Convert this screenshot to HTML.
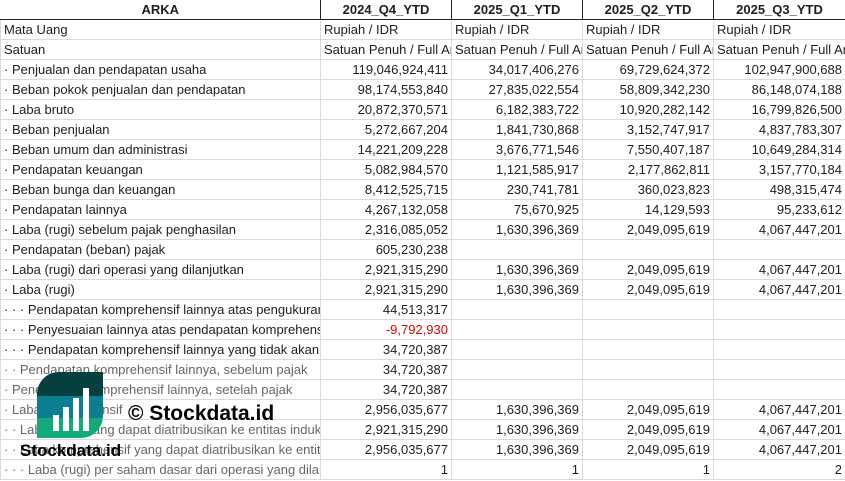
<!DOCTYPE html>
<html><head><meta charset="utf-8"><style>
html,body{margin:0;padding:0;background:#fff;width:845px;height:481px;overflow:hidden;position:relative}
table{border-collapse:collapse;table-layout:fixed;width:845px;font-family:"Liberation Sans",Arial,sans-serif;font-size:13px;color:#1e1e1e;position:absolute;left:0;top:0}
td{height:19px;padding:0 3px;border:1px solid #dadada;white-space:nowrap;overflow:hidden;text-overflow:clip;text-align:right;line-height:19px;max-width:0}
td:first-child{text-align:left}
tr.h td{font-weight:bold;text-align:center;border-bottom:1px solid #222;border-left:1px solid #222;border-right:1px solid #222;border-top:none;height:19px}
tr.l td{text-align:left}
.g{color:#666}
.r{color:#e00000}
.wm{position:absolute;font-family:"Liberation Sans",Arial,sans-serif;font-weight:bold;color:#000}
</style></head><body>
<table>
<colgroup><col style="width:320px"><col style="width:131px"><col style="width:131px"><col style="width:131px"><col style="width:132px"></colgroup>
<tr class="h"><td style="text-align:center;border-left:none">ARKA</td><td>2024_Q4_YTD</td><td>2025_Q1_YTD</td><td>2025_Q2_YTD</td><td>2025_Q3_YTD</td></tr>
<tr class="l"><td>Mata Uang</td><td>Rupiah / IDR</td><td>Rupiah / IDR</td><td>Rupiah / IDR</td><td>Rupiah / IDR</td></tr>
<tr class="l"><td>Satuan</td><td>Satuan Penuh / Full Amount</td><td>Satuan Penuh / Full Amount</td><td>Satuan Penuh / Full Amount</td><td>Satuan Penuh / Full Amount</td></tr>
<tr><td>· Penjualan dan pendapatan usaha</td><td>119,046,924,411</td><td>34,017,406,276</td><td>69,729,624,372</td><td>102,947,900,688</td></tr>
<tr><td>· Beban pokok penjualan dan pendapatan</td><td>98,174,553,840</td><td>27,835,022,554</td><td>58,809,342,230</td><td>86,148,074,188</td></tr>
<tr><td>· Laba bruto</td><td>20,872,370,571</td><td>6,182,383,722</td><td>10,920,282,142</td><td>16,799,826,500</td></tr>
<tr><td>· Beban penjualan</td><td>5,272,667,204</td><td>1,841,730,868</td><td>3,152,747,917</td><td>4,837,783,307</td></tr>
<tr><td>· Beban umum dan administrasi</td><td>14,221,209,228</td><td>3,676,771,546</td><td>7,550,407,187</td><td>10,649,284,314</td></tr>
<tr><td>· Pendapatan keuangan</td><td>5,082,984,570</td><td>1,121,585,917</td><td>2,177,862,811</td><td>3,157,770,184</td></tr>
<tr><td>· Beban bunga dan keuangan</td><td>8,412,525,715</td><td>230,741,781</td><td>360,023,823</td><td>498,315,474</td></tr>
<tr><td>· Pendapatan lainnya</td><td>4,267,132,058</td><td>75,670,925</td><td>14,129,593</td><td>95,233,612</td></tr>
<tr><td>· Laba (rugi) sebelum pajak penghasilan</td><td>2,316,085,052</td><td>1,630,396,369</td><td>2,049,095,619</td><td>4,067,447,201</td></tr>
<tr><td>· Pendapatan (beban) pajak</td><td>605,230,238</td><td></td><td></td><td></td></tr>
<tr><td>· Laba (rugi) dari operasi yang dilanjutkan</td><td>2,921,315,290</td><td>1,630,396,369</td><td>2,049,095,619</td><td>4,067,447,201</td></tr>
<tr><td>· Laba (rugi)</td><td>2,921,315,290</td><td>1,630,396,369</td><td>2,049,095,619</td><td>4,067,447,201</td></tr>
<tr><td>· · · Pendapatan komprehensif lainnya atas pengukuran</td><td>44,513,317</td><td></td><td></td><td></td></tr>
<tr><td>· · · Penyesuaian lainnya atas pendapatan komprehensif</td><td class="r">-9,792,930</td><td></td><td></td><td></td></tr>
<tr><td>· · · Pendapatan komprehensif lainnya yang tidak akan</td><td>34,720,387</td><td></td><td></td><td></td></tr>
<tr><td class="g">· · Pendapatan komprehensif lainnya, sebelum pajak</td><td>34,720,387</td><td></td><td></td><td></td></tr>
<tr><td class="g">· Pendapatan komprehensif lainnya, setelah pajak</td><td>34,720,387</td><td></td><td></td><td></td></tr>
<tr><td class="g">· Laba komprehensif</td><td>2,956,035,677</td><td>1,630,396,369</td><td>2,049,095,619</td><td>4,067,447,201</td></tr>
<tr><td class="g">· · Laba (rugi) yang dapat diatribusikan ke entitas induk</td><td>2,921,315,290</td><td>1,630,396,369</td><td>2,049,095,619</td><td>4,067,447,201</td></tr>
<tr><td class="g">· · Laba komprehensif yang dapat diatribusikan ke entitas</td><td>2,956,035,677</td><td>1,630,396,369</td><td>2,049,095,619</td><td>4,067,447,201</td></tr>
<tr><td class="g">· · · Laba (rugi) per saham dasar dari operasi yang dilanjutkan</td><td>1</td><td>1</td><td>1</td><td>2</td></tr>
</table>
<svg style="position:absolute;left:37px;top:372px" width="66" height="66" viewBox="0 0 66 66">
<defs><clipPath id="c"><path d="M22 0H66V44A22 22 0 0 1 44 66H0V22A22 22 0 0 1 22 0Z"/></clipPath></defs>
<g clip-path="url(#c)">
<rect x="0" y="0" width="66" height="24" fill="#063f3f"/>
<rect x="0" y="24" width="66" height="22" fill="#0b7f90"/>
<rect x="0" y="46" width="66" height="20" fill="#13a97a"/>
</g>
<rect x="16" y="43" width="6" height="16" fill="#fff"/>
<rect x="26" y="35" width="6" height="24" fill="#fff"/>
<rect x="36" y="26" width="6" height="33" fill="#fff"/>
<rect x="46" y="16" width="6" height="43" fill="#fff"/>
</svg>
<div class="wm" style="left:128px;top:402px;font-size:21px">© Stockdata.id</div>
<div class="wm" style="left:20px;top:441px;font-size:17px">Stockdata.id</div>
</body></html>
